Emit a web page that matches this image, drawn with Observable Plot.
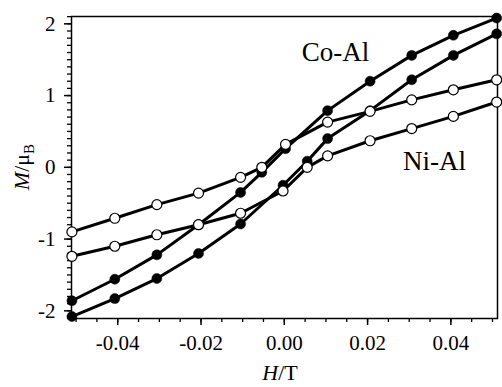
<!DOCTYPE html>
<html>
<head>
<meta charset="utf-8">
<script src="https://cdn.jsdelivr.net/npm/d3@7"></script>
<script src="https://cdn.jsdelivr.net/npm/@observablehq/plot@0.6"></script>
<style>
  html, body { margin: 0; padding: 0; background: #fff; }
  #chart { width: 502px; height: 387px; }
</style>
</head>
<body>
<div id="chart"></div>
<script>
// Field values (T) for the descending branch (from +H to -H)
const fieldDesc = [0.051, 0.0406, 0.0306, 0.0206, 0.0104, 0.0003, -0.0054, -0.0105, -0.0206, -0.0306, -0.0407, -0.051];
// Field values (T) for the ascending branch (from -H to +H)
const fieldAsc = [-0.051, -0.0407, -0.0306, -0.0206, -0.0105, -0.0003, 0.0055, 0.0104, 0.0206, 0.0306, 0.0406, 0.051];

// Co-Al magnetization (μB)
const coAlDesc = [2.08, 1.84, 1.56, 1.20, 0.79, 0.26, -0.07, -0.35, -0.80, -1.22, -1.56, -1.86];
const coAlAsc = [-2.08, -1.83, -1.55, -1.20, -0.79, -0.25, 0.085, 0.40, 0.79, 1.22, 1.56, 1.86];

// Ni-Al magnetization (μB)
const niAlDesc = [1.22, 1.08, 0.94, 0.78, 0.63, 0.32, 0.0, -0.14, -0.36, -0.52, -0.71, -0.90];
const niAlAsc = [-1.24, -1.10, -0.94, -0.80, -0.64, -0.33, 0.0, 0.16, 0.37, 0.54, 0.71, 0.91];

// Tick labels
const xMajorTicks = [-0.04, -0.02, 0.00, 0.02, 0.04];
const yMajorTicks = [-2, -1, 0, 1, 2];

// Series names
const seriesNames = ["Co-Al", "Ni-Al"];

function branch(name, dir, xs, ys) {
  return xs.map((h, i) => ({series: name, branch: dir, H: h, M: ys[i]}));
}
const coAl = [...branch("Co-Al", "desc", fieldDesc, coAlDesc), ...branch("Co-Al", "asc", fieldAsc, coAlAsc)];
const niAl = [...branch("Ni-Al", "desc", fieldDesc, niAlDesc), ...branch("Ni-Al", "asc", fieldAsc, niAlAsc)];

const xMinor = d3.range(-50, 51, 5).map(v => v / 1000);
const yMinor = d3.range(-21, 22, 1).map(v => v / 10);

const fmtX = d => d.toFixed(2);
const fmtY = d => d.toFixed(0);

const chart = Plot.plot({
  width: 502,
  height: 387,
  marginLeft: 71,
  marginRight: 5,
  marginTop: 16,
  marginBottom: 69,
  style: {fontFamily: "'Liberation Serif', 'Times New Roman', serif", fontSize: "21px", color: "black", background: "white"},
  x: {domain: [-0.0511, 0.0512], label: null},
  y: {domain: [-2.107, 2.102], label: null},
  marks: [
    Plot.axisX(xMinor, {tickSize: 4, strokeWidth: 1.3, text: null, label: null}),
    Plot.axisX(xMajorTicks, {tickSize: 7, strokeWidth: 1.5, tickPadding: 10, tickFormat: fmtX, label: null, fontSize: 21}),
    Plot.axisY(yMinor, {tickSize: 4, strokeWidth: 1.3, text: null, label: null}),
    Plot.axisY(yMajorTicks, {tickSize: 7, strokeWidth: 1.5, tickPadding: 9, tickFormat: fmtY, label: null, fontSize: 21}),
    Plot.frame({stroke: "black", strokeWidth: 1.5}),
    Plot.line(coAl, {x: "H", y: "M", z: "branch", stroke: "black", strokeWidth: 3}),
    Plot.dot(coAl, {x: "H", y: "M", r: 5, fill: "black", stroke: "black", strokeWidth: 0.5}),
    Plot.line(niAl, {x: "H", y: "M", z: "branch", stroke: "black", strokeWidth: 3}),
    Plot.dot(niAl, {x: "H", y: "M", r: 5, fill: "white", stroke: "black", strokeWidth: 1.2}),
    Plot.text([seriesNames[0]], {x: 0.0123, y: 1.60, text: d => d, fontSize: 27, fill: "black"}),
    Plot.text([seriesNames[1]], {x: 0.0361, y: 0.08, text: d => d, fontSize: 27, fill: "black"})
  ]
});

document.getElementById("chart").appendChild(chart);

// Axis titles with italic symbols and subscript
const svg = d3.select(chart);
const xt = svg.append("text")
  .attr("x", 280).attr("y", 380)
  .attr("text-anchor", "middle")
  .attr("font-family", "'Liberation Serif', 'Times New Roman', serif")
  .attr("font-size", 22)
  .attr("fill", "black");
xt.append("tspan").attr("font-style", "italic").text("H");
xt.append("tspan").text("/T");

const yt = svg.append("text")
  .attr("transform", "translate(29,167) rotate(-90)")
  .attr("text-anchor", "middle")
  .attr("font-family", "'Liberation Serif', 'Times New Roman', serif")
  .attr("font-size", 22)
  .attr("fill", "black");
yt.append("tspan").attr("font-style", "italic").text("M");
yt.append("tspan").text("/μ");
yt.append("tspan").attr("font-size", 15).attr("dy", 5).text("B");
</script>
</body>
</html>
